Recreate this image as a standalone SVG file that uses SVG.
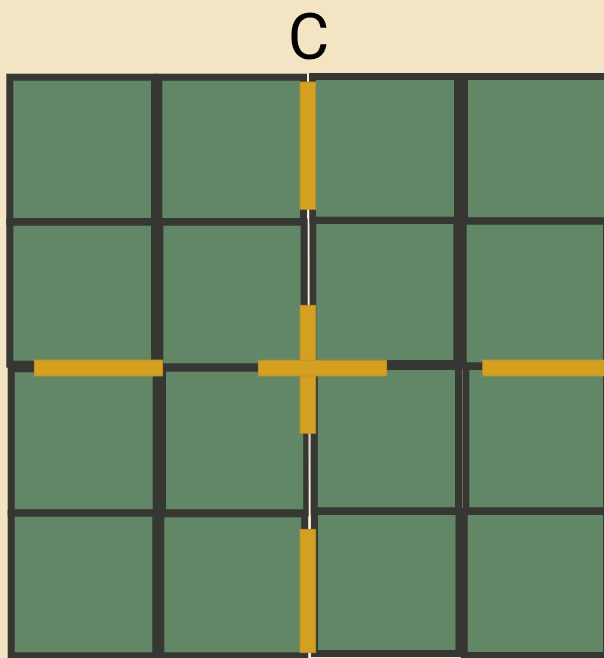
<svg xmlns="http://www.w3.org/2000/svg" width="604" height="658" viewBox="0 0 604 658">
  <style>
    .sq { fill: #628767; stroke: #363632; stroke-width: 7; }
    .bar { fill: #d4a022; stroke: #bf9128; stroke-width: 0.8; }
    .axis { stroke: #fbf3dc; stroke-width: 1.3; fill: none; }
    .lbl { font-family: Roboto, "Liberation Sans", Arial, sans-serif; font-size: 64px; fill: #000; text-anchor: middle; }
  </style>
  <rect x="0" y="0" width="604" height="658" fill="#f3e5c3"/>
  <text class="lbl" x="308.5" y="59">C</text>

  <g id="r0c0"><rect class="sq" x="9.8" y="77.2" width="144.7" height="144.3"/></g>
  <g id="r0c1"><rect class="sq" x="158.8" y="77.2" width="144.7" height="144.3"/></g>
  <g id="r0c2"><rect class="sq" x="312.5" y="76.5" width="145" height="143.7"/></g>
  <g id="r0c3"><rect class="sq" x="464.5" y="76.5" width="145" height="144.3"/></g>

  <g id="r1c0"><rect class="sq" x="9.8" y="222.2" width="144.7" height="142"/></g>
  <g id="r1c1"><rect class="sq" x="159.8" y="222.2" width="144.4" height="144.6"/></g>
  <g id="r1c2"><rect class="sq" x="312.8" y="220.5" width="144" height="143"/></g>
  <g id="r1c3"><rect class="sq" x="463.2" y="221.2" width="143.3" height="144.6"/></g>

  <g id="r2c0"><rect class="sq" x="11.2" y="368.8" width="145" height="144"/></g>
  <g id="r2c1"><rect class="sq" x="162.5" y="368.2" width="144.2" height="144.6"/></g>
  <g id="r2c2"><rect class="sq" x="314.3" y="366.5" width="144.2" height="144.3"/></g>
  <g id="r2c3"><rect class="sq" x="465.8" y="366.5" width="140.7" height="144.3"/></g>

  <g id="r3c0"><rect class="sq" x="11.2" y="513.2" width="144.6" height="142.6"/></g>
  <g id="r3c1"><rect class="sq" x="160.8" y="513.8" width="143.9" height="142"/></g>
  <g id="r3c2"><rect class="sq" x="314.5" y="511.5" width="144.5" height="142"/></g>
  <g id="r3c3"><rect class="sq" x="464.2" y="511.5" width="142.3" height="144"/></g>

  <g id="axis">
    <line class="axis" x1="308.2" y1="73" x2="309.8" y2="658"/>
  </g>

  <g id="connectors">
    <rect class="bar" x="300" y="82" width="15.7" height="127.3"/>
    <rect class="bar" x="300" y="305.3" width="15.7" height="128"/>
    <rect class="bar" x="300" y="529.3" width="15.7" height="123.4"/>
    <rect class="bar" x="258.3" y="360.2" width="128.4" height="15.8"/>
    <rect class="bar" x="34.3" y="360" width="128.4" height="16"/>
    <rect class="bar" x="482.7" y="360" width="128.4" height="16"/>
  </g>
</svg>
